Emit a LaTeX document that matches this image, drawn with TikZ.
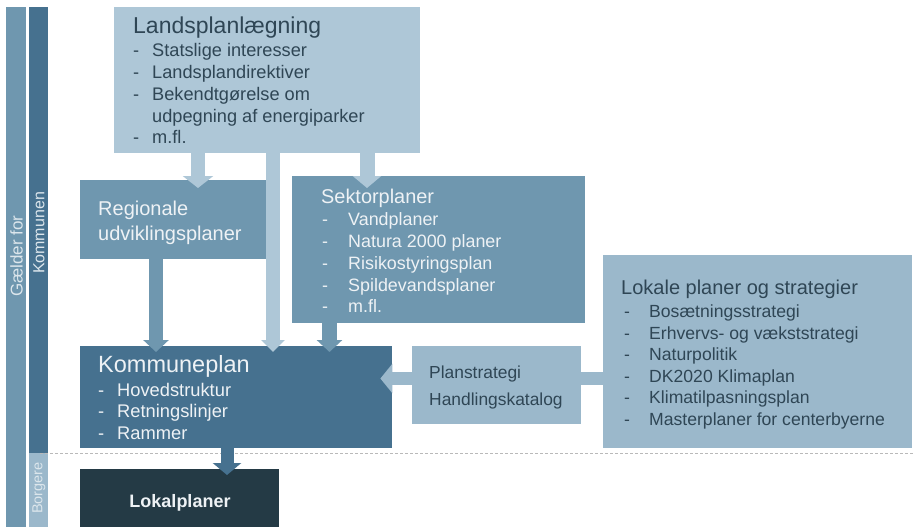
\documentclass[tikz,border=0pt]{standalone}
\usepackage{fontspec}
\setmainfont{Liberation Sans}
\usetikzlibrary{arrows.meta,calc}
\definecolor{cLight}{HTML}{AEC7D7}
\definecolor{cMed}{HTML}{6F97AF}
\definecolor{cDark}{HTML}{46718F}
\definecolor{cPale}{HTML}{9BB8CB}
\definecolor{cNight}{HTML}{243A45}
\definecolor{tDark}{HTML}{2F4655}
\definecolor{tWhite}{HTML}{EEF2F5}
\definecolor{tSide}{HTML}{DCE6EC}
\tikzset{
  box/.style={draw=none, inner sep=0pt, anchor=north west},
  txt/.style={inner sep=0pt, anchor=base west},
  sidetxt/.style={inner sep=0pt, rotate=90, text=tSide, font=\fontsize{16}{18}\selectfont},
  blockarr/.style args={#1/#2/#3}{draw=#1, line width=#2pt, -{Triangle[length=12pt,width=#3pt]}},
}
\begin{document}
\begin{tikzpicture}[x=1pt,y=-1pt]
\useasboundingbox[fill=white] (0,0) rectangle (914,527);
% side bars
\node[box, fill=cMed, minimum width=20pt, minimum height=520pt] (gbar) at (6,7) {};
\node[box, fill=cDark, minimum width=19pt, minimum height=446pt] (kbar) at (29,7) {};
\node[box, fill=cPale, minimum width=19pt, minimum height=74pt] (bbar) at (29,453) {};
\node[sidetxt, font=\fontsize{17}{19}\selectfont] (gtxt) at (16.5,256) {Gælder for};
\node[sidetxt] (ktxt) at (39,233) {Kommunen};
\node[sidetxt, font=\fontsize{14.5}{16}\selectfont] (btxt) at (39,488) {Borgere};
% dashed separator
\coordinate (dl) at (40,453);
\coordinate (dr) at (914,453);
\draw[draw=gray!55, line width=1pt, dash pattern=on 3pt off 2pt] (dl) -- (dr);
% boxes
\node[box, fill=cLight, minimum width=306pt, minimum height=146pt] (land) at (114,7) {};
\node[box, fill=cMed, minimum width=186pt, minimum height=79pt] (reg) at (80,180) {};
\node[box, fill=cMed, minimum width=293pt, minimum height=147pt] (sek) at (292,176) {};
\node[box, fill=cDark, minimum width=312pt, minimum height=102pt] (komm) at (80,346) {};
\node[box, fill=cNight, minimum width=199pt, minimum height=58pt] (lokal) at (80,469) {};
\node[box, fill=cPale, minimum width=309pt, minimum height=193pt] (lok) at (603,255) {};
% arrow guide coordinates
\coordinate (g1) at (198,0);
\coordinate (g2) at (273,0);
\coordinate (g3) at (367,0);
\coordinate (g4) at (156,0);
\coordinate (g5) at (329.5,0);
\coordinate (g6) at (227,0);
\coordinate (g7) at (0,378.5);
% arrows
\draw[blockarr=cLight/14/30] (land.south -| g1) -- ($(reg.north -| g1)+(0,8)$);
\draw[blockarr=cLight/14/23] (land.south -| g2) -- ($(komm.north -| g2)+(0,6)$);
\draw[blockarr=cLight/15/28] (land.south -| g3) -- ($(sek.north -| g3)+(0,12)$);
\draw[blockarr=cMed/14/25] (reg.south -| g4) -- ($(komm.north -| g4)+(0,6)$);
\draw[blockarr=cMed/15/25] (sek.south -| g5) -- ($(komm.north -| g5)+(0,6)$);
\draw[blockarr=cDark/13/28] (komm.south -| g6) -- ($(lokal.north -| g6)+(0,6)$);
\draw[blockarr=cPale/13/29] (lok.west |- g7) -- ($(komm.east |- g7)+(-12,0)$);
\node[box, fill=cPale, minimum width=169pt, minimum height=78pt] (plan) at (412,346) {};
% Landsplanlaegning text
\begin{scope}[text=tDark]
\node[txt, font=\fontsize{23}{26}\selectfont] (landT) at (133,34) {Landsplanlægning};
\begin{scope}[font=\fontsize{18.2}{21}\selectfont]
\node[txt] (ld1) at (133,57) {-}; \node[txt] (l1) at (152,57) {Statslige interesser};
\node[txt] (ld2) at (133,79) {-}; \node[txt] (l2) at (152,79) {Landsplandirektiver};
\node[txt] (ld3) at (133,101) {-}; \node[txt] (l3) at (152,101) {Bekendtgørelse om};
\node[txt] (l3b) at (152,122) {udpegning af energiparker};
\node[txt] (ld4) at (133,143) {-}; \node[txt] (l4) at (152,143) {m.fl.};
\end{scope}
\end{scope}
% Regionale
\begin{scope}[text=tWhite, font=\fontsize{20}{23}\selectfont]
\node[txt] (r1) at (98,215) {Regionale};
\node[txt] (r2) at (98,240) {udviklingsplaner};
\end{scope}
% Sektorplaner
\begin{scope}[text=tWhite]
\node[txt, font=\fontsize{19.9}{22}\selectfont] (sT) at (321,203) {Sektorplaner};
\begin{scope}[font=\fontsize{17.9}{20}\selectfont]
\node[txt] (sd1) at (322,225) {-}; \node[txt] (s1) at (348,225) {Vandplaner};
\node[txt] (sd2) at (322,247) {-}; \node[txt] (s2) at (348,247) {Natura 2000 planer};
\node[txt] (sd3) at (322,269) {-}; \node[txt] (s3) at (348,269) {Risikostyringsplan};
\node[txt] (sd4) at (322,291) {-}; \node[txt] (s4) at (348,291) {Spildevandsplaner};
\node[txt] (sd5) at (322,312) {-}; \node[txt] (s5) at (348,312) {m.fl.};
\end{scope}
\end{scope}
% Kommuneplan
\begin{scope}[text=tWhite]
\node[txt, font=\fontsize{23.5}{26}\selectfont] (kT) at (98,372) {Kommuneplan};
\begin{scope}[font=\fontsize{18.3}{21}\selectfont]
\node[txt] (kd1) at (98,396) {-}; \node[txt] (k1) at (117,396) {Hovedstruktur};
\node[txt] (kd2) at (98,417) {-}; \node[txt] (k2) at (117,417) {Retningslinjer};
\node[txt] (kd3) at (98,439) {-}; \node[txt] (k3) at (117,439) {Rammer};
\end{scope}
\end{scope}
% Lokalplaner
\node[inner sep=0pt, anchor=base, text=tWhite, font=\bfseries\fontsize{18}{21}\selectfont] (lokT) at (180,507) {Lokalplaner};
% Planstrategi
\begin{scope}[text=tDark, font=\fontsize{17.4}{20}\selectfont]
\node[txt] (p1) at (429,378) {Planstrategi};
\node[txt] (p2) at (429,405) {Handlingskatalog};
\end{scope}
% Lokale planer
\begin{scope}[text=tDark]
\node[txt, font=\fontsize{20}{23}\selectfont] (oT) at (621,294) {Lokale planer og strategier};
\begin{scope}[font=\fontsize{17.6}{20}\selectfont]
\node[txt] (od1) at (624,317) {-}; \node[txt] (o1) at (649,317) {Bosætningsstrategi};
\node[txt] (od2) at (624,339) {-}; \node[txt] (o2) at (649,339) {Erhvervs- og vækststrategi};
\node[txt] (od3) at (624,360) {-}; \node[txt] (o3) at (649,360) {Naturpolitik};
\node[txt] (od4) at (624,382) {-}; \node[txt] (o4) at (649,382) {DK2020 Klimaplan};
\node[txt] (od5) at (624,403) {-}; \node[txt] (o5) at (649,403) {Klimatilpasningsplan};
\node[txt] (od6) at (624,425) {-}; \node[txt] (o6) at (649,425) {Masterplaner for centerbyerne};
\end{scope}
\end{scope}
\end{tikzpicture}
\end{document}
